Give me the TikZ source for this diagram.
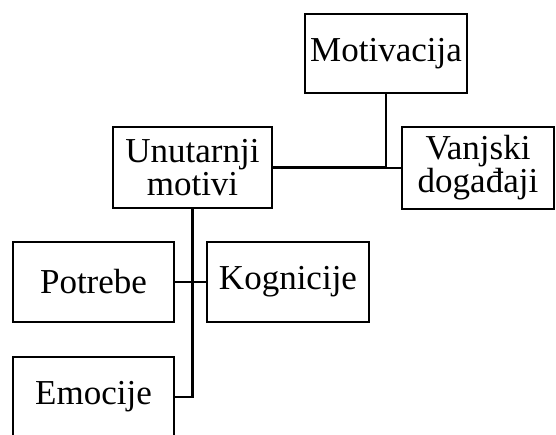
\documentclass[tikz,border=0pt]{standalone}
\usepackage{fontspec}
\setmainfont{Liberation Serif}
\begin{document}
\begin{tikzpicture}[x=1pt,y=-1pt,
  box/.style={draw,line width=2.2pt,rectangle,align=center,inner sep=0pt,font=\fontsize{35}{33}\selectfont},
  conn/.style={line width=2.2pt}]
\useasboundingbox (0,0) rectangle (556,434);
\node[box,minimum width=162pt,minimum height=79pt] (mot) at (386,53.5) {Motivacija};
\node[box,minimum width=152pt,minimum height=82pt] (vanj) at (478,168) {Vanjski\\događaji};
\node[box,minimum width=159pt,minimum height=81pt] (unut) at (192.5,167.5) {Unutarnji\\motivi};
\node[box,minimum width=161pt,minimum height=80pt] (pot) at (93.5,282) {Potrebe};
\node[box,minimum width=162pt,minimum height=80pt] (kog) at (288,282) {Kognicije};
\node[box,minimum width=161pt,minimum height=80pt] (emo) at (93.5,397) {Emocije};
\draw[conn] (mot.south) |- (vanj.west);
\draw[conn] (unut.east) -- (unut.east -| mot.south);
\draw[conn] (unut.south) |- (emo.east);
\draw[conn] (pot.east) -- (kog.west);
\end{tikzpicture}
\end{document}
